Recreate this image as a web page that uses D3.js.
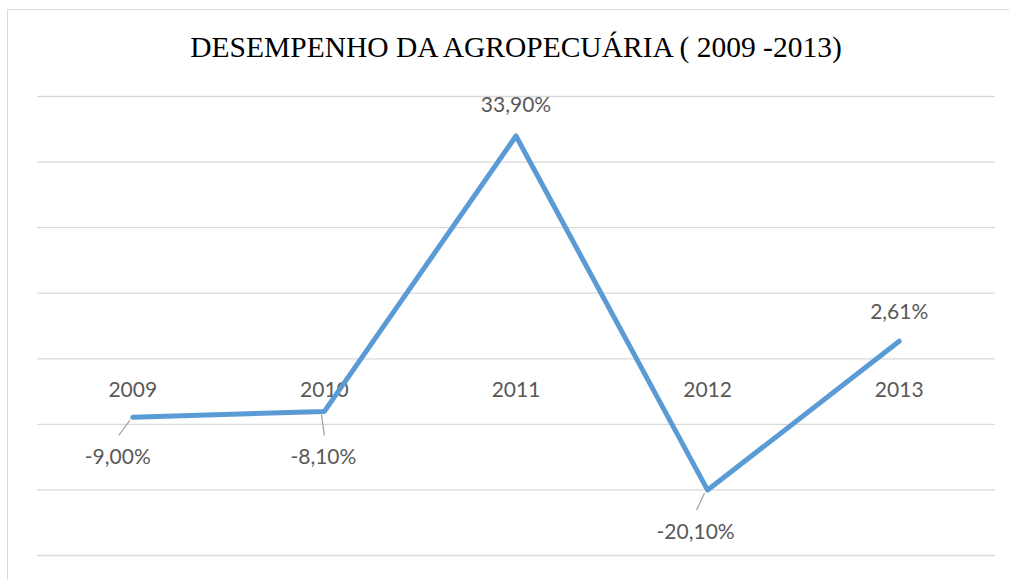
<!DOCTYPE html>
<html><head><meta charset="utf-8">
<script src="https://cdn.jsdelivr.net/npm/d3@7"></script>
<style>body{margin:0;background:#fff}</style>
</head><body>
<svg id="c" width="1009" height="580"></svg>
<script>
const titleText = "DESEMPENHO DA AGROPECUÁRIA ( 2009 -2013)";
const categories = ["2009","2010","2011","2012","2013"];
const values = [-9.00, -8.10, 33.90, -20.10, 2.61];
const valueLabels = ["-9,00%","-8,10%","33,90%","-20,10%","2,61%"];
const yTicks = [-30,-20,-10,0,10,20,30,40];

// label layout (px offsets relative to point)
const labelDx = [-15, -1, 0, -12, 0];
const labelDy = [39, 45, -31, 41, -30];
const hasLeader = [true, true, false, true, false];

const svg = d3.select("#c");
svg.append("rect").attr("x",7.5).attr("y",9.5).attr("width",1010).attr("height",580)
  .attr("fill","#fff").attr("stroke","#d9d9d9").attr("stroke-width",1);

const x = d3.scaleBand().domain(categories).range([37,995]);
const y = d3.scaleLinear().domain([-30,40]).range([555,96]);

svg.append("text").attr("x",516).attr("y",57).attr("text-anchor","middle")
  .attr("font-family","'Liberation Serif','Times New Roman',serif").attr("font-size",29.5)
  .attr("fill","#000").text(titleText);

const grid = svg.append("g")
  .call(d3.axisLeft(y).tickValues(yTicks).tickSize(-(995-37)).tickFormat(""))
  .attr("transform","translate(37,0)");
grid.select(".domain").remove();
grid.selectAll(".tick line").attr("stroke","#d9d9d9").attr("stroke-width",1.3);

const font = "Lato,'Open Sans',sans-serif";
const xa = svg.append("g").attr("transform",`translate(0,${y(0)})`)
  .call(d3.axisBottom(x).tickSize(0).tickPadding(0));
xa.select(".domain").remove();
xa.selectAll(".tick text").attr("dy",null).attr("y",39)
  .attr("font-family",font).attr("font-size",21).attr("fill","#595959");

const cx = d => x(d) + x.bandwidth()/2;
const line = d3.line().x((d,i)=>cx(categories[i])).y(d=>y(d));
svg.append("path").datum(values).attr("d",line).attr("fill","none")
  .attr("stroke","#5B9BD5").attr("stroke-width",5).attr("stroke-linejoin","round").attr("stroke-linecap","round");

const lab = svg.append("g");
values.forEach((v,i)=>{
  const px = cx(categories[i]), py = y(v);
  const lx = px + labelDx[i], ly = py + labelDy[i];
  if (hasLeader[i]) {
    lab.append("line").attr("x1",px - (labelDx[i]? 3:0)).attr("y1",py+3)
      .attr("x2",lx + (labelDx[i]? 1:0)).attr("y2",ly-21)
      .attr("stroke","#a6a6a6").attr("stroke-width",1.3);
  }
  lab.append("text").attr("x",lx).attr("y",ly+7.5).attr("text-anchor","middle")
    .attr("font-family",font).attr("font-size",21).attr("fill","#595959").text(valueLabels[i]);
});
</script>
</body></html>
